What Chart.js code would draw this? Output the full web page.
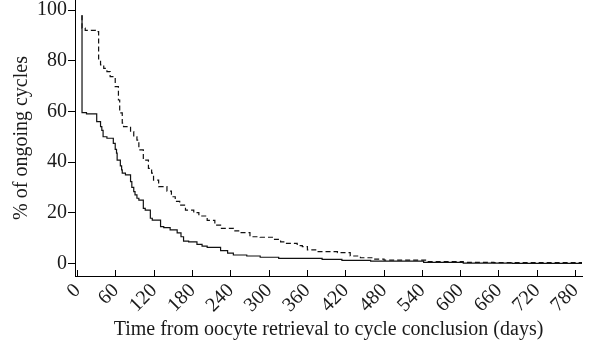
<!DOCTYPE html>
<html>
<head>
<meta charset="utf-8">
<script src="https://cdn.jsdelivr.net/npm/chart.js@4"></script>
<style>
  html, body { margin: 0; padding: 0; background: #fff; }
  #wrap { width: 604px; height: 354px; }
</style>
</head>
<body>
<div id="wrap"><canvas id="kmChart"></canvas></div>
<script>
// time (days) at which each curve steps down, and the % left after the step
const solidDays = [7, 14, 30, 36, 38, 40, 46, 56, 59, 61, 62, 67, 69, 70, 75, 83, 85, 88, 90, 93, 96, 103, 106, 114, 117, 130, 135, 145, 156, 162, 166, 174, 187, 195, 203, 224, 235, 244, 265, 286, 315, 383, 414, 459, 542, 604, 681, 728, 792];
const solidPct = [98, 59.5, 59, 56, 54, 52.5, 50, 49.4, 47.4, 45, 43.5, 40.8, 38.5, 36.9, 35.6, 34.9, 32.3, 30, 28.3, 27, 25.7, 25, 21.7, 21, 17.8, 17.1, 14.5, 14.1, 13.2, 12, 10.5, 8.8, 8.5, 7.5, 6.8, 6.3, 5, 4, 3.3, 2.9, 2.4, 2.0, 1.6, 1.2, 0.9, 0.4, 0.1, 0, 0];

const dashDays = [7, 12, 28, 33, 36, 41, 46, 51, 59, 64, 66, 70, 72, 83, 88, 93, 96, 103, 111, 116, 119, 127, 140, 147, 153, 160, 169, 182, 190, 203, 215, 224, 244, 255, 270, 286, 307, 318, 326, 344, 352, 360, 375, 407, 427, 443, 464, 480, 548, 604, 652, 740, 792];
const dashPct = [98, 92.9, 92, 91.5, 80.4, 78.4, 77, 75.7, 73.7, 69.8, 64.5, 59.4, 55.4, 54, 52, 50, 48.7, 44.8, 40.8, 37.5, 35.6, 32.9, 30.3, 28.5, 26.3, 24.5, 23, 21, 20, 18.7, 17, 15.1, 13.8, 12.8, 12.1, 10.5, 10.3, 9.5, 8.5, 7.9, 7, 6.6, 5.3, 4.6, 4.2, 2.9, 2.2, 1.7, 1.3, 0.7, 0.4, 0.3, 0.3];

const xTicks = [0, 60, 120, 180, 240, 300, 360, 420, 480, 540, 600, 660, 720, 780];
const yTicks = [0, 20, 40, 60, 80, 100];

const serif = 'Liberation Serif';
const ink = '#1a1a1a';

function toPoints(xs, ys) {
  return xs.map((x, i) => ({x: x, y: ys[i]}));
}

new Chart(document.getElementById('kmChart'), {
  type: 'line',
  data: {
    datasets: [{
      data: toPoints(solidDays, solidPct),
      borderColor: '#111',
      borderWidth: 1.2,
      stepped: 'after',
      pointRadius: 0,
      fill: false
    }, {
      data: toPoints(dashDays, dashPct),
      borderColor: '#111',
      borderWidth: 1.2,
      borderDash: [5, 3],
      stepped: 'after',
      pointRadius: 0,
      fill: false
    }]
  },
  options: {
    responsive: true,
    maintainAspectRatio: false,
    animation: false,
    layout: { padding: { left: 0, right: 22, top: 0, bottom: 0 } },
    plugins: { legend: { display: false }, tooltip: { enabled: false } },
    scales: {
      x: {
        type: 'linear',
        min: -4,
        max: 790,
        afterBuildTicks: s => { s.ticks = xTicks.map(v => ({value: v})); },
        afterFit: s => { s.height = 78; s.paddingLeft = 0; s.paddingRight = 0; },
        border: { color: '#000', width: 1 },
        grid: { drawOnChartArea: false, color: '#000', tickLength: -6 },
        ticks: {
          autoSkip: false,
          minRotation: 45,
          maxRotation: 45,
          padding: 9,
          color: ink,
          font: { family: serif, size: 20 }
        },
        title: {
          display: true,
          text: 'Time from oocyte retrieval to cycle conclusion (days)',
          color: ink,
          font: { family: serif, size: 20 },
          padding: { top: 0, bottom: 12 }
        }
      },
      y: {
        min: -5,
        max: 104,
        afterBuildTicks: s => { s.ticks = yTicks.map(v => ({value: v})); },
        afterFit: s => { s.width = 75; s.paddingTop = 0; s.paddingBottom = 0; },
        border: { color: '#000', width: 1 },
        grid: { drawOnChartArea: false, color: '#000', tickLength: 7 },
        ticks: {
          padding: 1,
          color: ink,
          font: { family: serif, size: 20 }
        },
        title: {
          display: true,
          text: '% of ongoing cycles',
          color: ink,
          font: { family: serif, size: 20 },
          padding: { top: 10, bottom: 0 }
        }
      }
    }
  }
});
</script>
</body>
</html>
